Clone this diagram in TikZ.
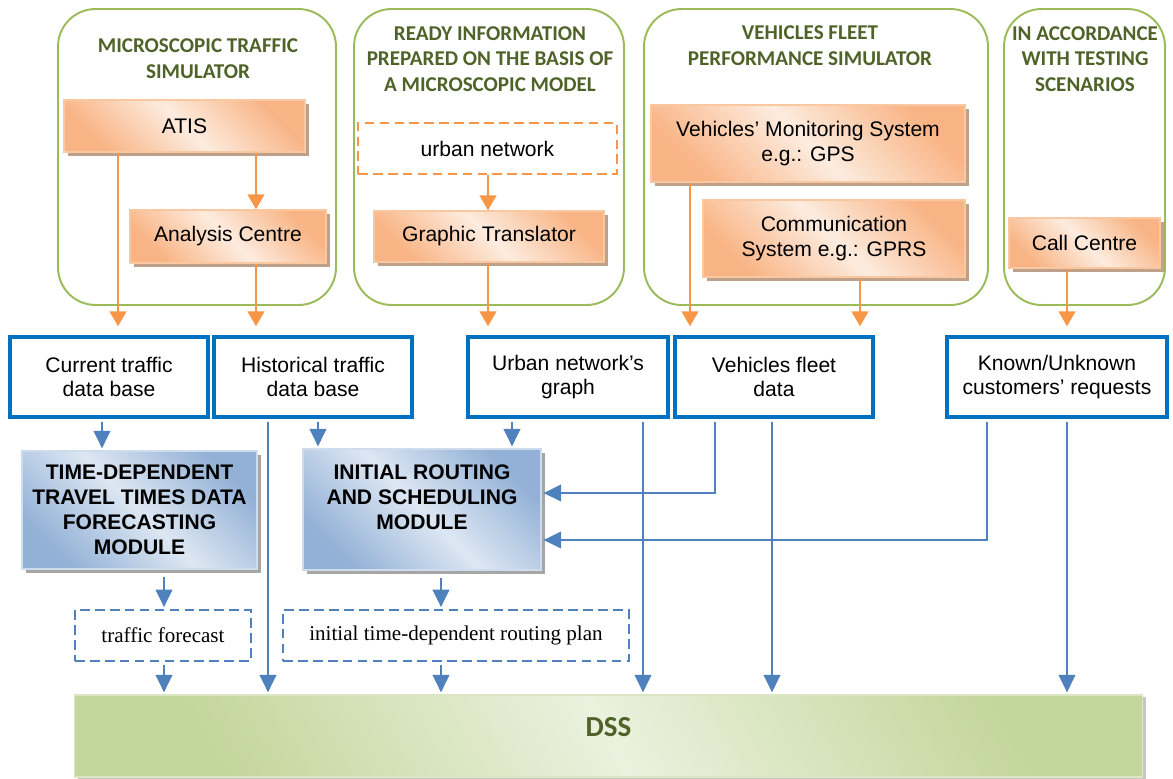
\documentclass[tikz,border=0pt]{standalone}
\usepackage{fontspec}
\setmainfont{Liberation Sans}
\newfontfamily\titlefont{Carlito}
\newfontfamily\notefont{Liberation Serif}
\usepackage{tikz}
\usetikzlibrary{arrows.meta,shadows}
\definecolor{grpgreen}{HTML}{9BBB59}
\definecolor{titlegreen}{HTML}{4F6228}
\definecolor{orgdark}{HTML}{F9B485}
\definecolor{orglight}{HTML}{FDECDF}
\definecolor{orgline}{HTML}{FAC8A0}
\definecolor{orgshade}{HTML}{BFA089}
\definecolor{orgarrow}{HTML}{F79646}
\definecolor{dbblue}{HTML}{0070C0}
\definecolor{linkblue}{HTML}{4F81BD}
\definecolor{moddark}{HTML}{93B1D6}
\definecolor{modlight}{HTML}{DDE7F3}
\definecolor{dssdark}{HTML}{C3D69B}
\definecolor{dsslight}{HTML}{EBF1DE}

\begin{document}
\begin{tikzpicture}[
    x=0.02cm, y=-0.02cm,
    group/.style={
        rectangle, draw=grpgreen, line width=1.1pt, rounded corners=0.75cm,
        minimum height=5.92cm
    },
    grouptitle/.style={
        font=\titlefont\bfseries\fontsize{12}{14.7}\selectfont,
        text=titlegreen, align=center
    },
    unit/.style={
        rectangle, draw=orgline, line width=0.8pt,
        top color=orgdark, bottom color=orgdark, middle color=orglight, shading angle=-45,
        general shadow={fill=orgshade, shadow xshift=2.5pt, shadow yshift=-2.5pt},
        align=center, font=\fontsize{12}{14.4}\selectfont
    },
    rawinput/.style={
        rectangle, draw=orgarrow, line width=1.3pt, dash pattern=on 5.5pt off 3pt,
        align=center, font=\fontsize{12}{14.4}\selectfont
    },
    datab/.style={
        rectangle, draw=dbblue, line width=2.2pt, fill=white,
        minimum height=1.6cm, align=center, font=\fontsize{12}{13.2}\selectfont
    },
    module/.style={
        rectangle, draw=white!55!moddark, line width=1pt,
        top color=moddark, bottom color=moddark, middle color=modlight, shading angle=-45,
        general shadow={fill=gray!70, shadow xshift=2.5pt, shadow yshift=-2.5pt},
        align=center, font=\bfseries\fontsize{12}{14.2}\selectfont
    },
    outbox/.style={
        rectangle, draw=linkblue, line width=1.3pt, dash pattern=on 5.5pt off 3pt,
        minimum height=1.02cm, align=center, font=\notefont\fontsize{12}{14}\selectfont
    },
    dss/.style={
        rectangle, draw=white!40!dssdark, line width=1pt,
        top color=dssdark, bottom color=dssdark, middle color=dsslight, shading angle=-60,
        general shadow={fill=gray!45, shadow xshift=2pt, shadow yshift=-1pt},
        font=\titlefont\bfseries\fontsize{16.5}{19}\selectfont, text=titlegreen
    },
    oarrow/.style={-{Triangle[length=8.5pt,width=9.5pt]}, line width=1.2pt, orgarrow},
    ofeed/.style={oarrow, shorten >=5pt},
    barrow/.style={-{Triangle[length=10pt,width=9.5pt]}, line width=1.3pt, linkblue,
        shorten <=1.5pt, shorten >=1pt}
]
\useasboundingbox (0,0) rectangle (1173,778);

% source groups
\node[group, minimum width=5.56cm] (simgrp)   at (197,157)    {};
\node[group, minimum width=5.4cm]  (readygrp) at (489,157)    {};
\node[group, minimum width=6.88cm] (fleetgrp) at (816,157)    {};
\node[group, minimum width=3.22cm] (scengrp)  at (1084.5,157) {};

\node[grouptitle] (simtitle)   at (198,59)  {MICROSCOPIC TRAFFIC\\SIMULATOR};
\node[grouptitle] (readytitle) at (490,59)  {READY INFORMATION\\PREPARED ON THE BASIS OF\\A MICROSCOPIC MODEL};
\node[grouptitle] (fleettitle) at (810,46)  {VEHICLES FLEET\\PERFORMANCE SIMULATOR};
\node[grouptitle] (scentitle)  at (1085,59) {IN ACCORDANCE\\WITH TESTING\\SCENARIOS};

\node[unit, minimum width=4.82cm, minimum height=1.04cm]     (atis)     at (184.5,126)  {ATIS};
\node[unit, minimum width=3.92cm, minimum height=1.06cm]     (analysis) at (228,236.5)  {Analysis Centre};
\node[rawinput, minimum width=5.18cm, minimum height=1.02cm] (urbnet)   at (487.5,148.5) {urban network};
\node[unit, minimum width=4.6cm, minimum height=1.02cm]      (graphic)  at (489,236.5)  {Graphic Translator};
\node[unit, minimum width=6.28cm, minimum height=1.54cm]     (vms)      at (808,143.5)  {Vehicles’ Monitoring System\\e.g.: GPS};
\node[unit, minimum width=5.24cm, minimum height=1.54cm]     (comm)     at (834,238.5)  {Communication\\System e.g.: GPRS};
\node[unit, minimum width=3.02cm, minimum height=1cm]        (call)     at (1084.5,243) {Call Centre};

% data bases
\node[datab, minimum width=3.96cm] (curdb)   at (109,377)  {Current traffic\\data base};
\node[datab, minimum width=3.96cm] (histdb)  at (313,377)  {Historical traffic\\data base};
\node[datab, minimum width=4cm]    (graphdb) at (568,377)  {Urban network’s\\graph};
\node[datab, minimum width=3.96cm] (fleetdb) at (774,377)  {Vehicles fleet\\data};
\node[datab, minimum width=4.4cm]  (custdb)  at (1057,377) {Known/Unknown\\customers’ requests};

% modules and outputs
\node[module, minimum width=4.7cm, minimum height=2.36cm] (tdm) at (139.5,510) {TIME-DEPENDENT\\TRAVEL TIMES DATA\\FORECASTING\\MODULE};
\node[module, minimum width=4.76cm, minimum height=2.42cm, text depth=14pt] (irsm) at (422,509.5) {INITIAL ROUTING\\AND SCHEDULING\\MODULE};
\node[outbox, minimum width=3.52cm] (fcast) at (163,635.5) {traffic forecast};
\node[outbox, minimum width=6.92cm] (plan)  at (456,635.5) {initial time-dependent routing plan};
\node[dss, minimum width=21.36cm, minimum height=1.64cm, text depth=10pt] (dss) at (608.5,736) {DSS};

% connector columns and rows
\foreach \n/\x in {a/102,b/118,c/164,d/256,e/268,f/318,g/441,h/488,i/512,j/643,k/690,l/715,m/772,n/860,o/987,p/1067}
    \coordinate (col\n) at (\x,0);
\coordinate (fleetrow) at (0,493);
\coordinate (custrow)  at (0,540);

\draw[ofeed] (atis.south -| colb) -- (curdb.north -| colb);
\draw[oarrow] (atis.south -| cold) -- (analysis.north -| cold);
\draw[ofeed] (analysis.south -| cold) -- (histdb.north -| cold);
\draw[oarrow] (urbnet.south -| colh) -- (graphic.north -| colh);
\draw[ofeed] (graphic.south -| colh) -- (graphdb.north -| colh);
\draw[ofeed] (vms.south -| colk) -- (fleetdb.north -| colk);
\draw[ofeed] (comm.south -| coln) -- (fleetdb.north -| coln);
\draw[ofeed] (call.south -| colp) -- (custdb.north -| colp);

\draw[barrow] (curdb.south -| cola) -- (tdm.north -| cola);
\draw[barrow] (histdb.south -| colf) -- (irsm.north -| colf);
\draw[barrow] (graphdb.south -| coli) -- (irsm.north -| coli);
\draw[barrow] (histdb.south -| cole) -- (dss.north -| cole);
\draw[barrow] (graphdb.south -| colj) -- (dss.north -| colj);
\draw[barrow] (fleetdb.south -| coll) |- (irsm.east |- fleetrow);
\draw[barrow] (fleetdb.south -| colm) -- (dss.north -| colm);
\draw[barrow] (custdb.south -| colo) |- (irsm.east |- custrow);
\draw[barrow] (custdb.south -| colp) -- (dss.north -| colp);
\draw[barrow, shorten <=4pt] (tdm.south -| colc) -- (fcast.north -| colc);
\draw[barrow, shorten <=4pt] (irsm.south -| colg) -- (plan.north -| colg);
\draw[barrow] (fcast.south -| colc) -- (dss.north -| colc);
\draw[barrow] (plan.south -| colg) -- (dss.north -| colg);
\end{tikzpicture}
\end{document}
